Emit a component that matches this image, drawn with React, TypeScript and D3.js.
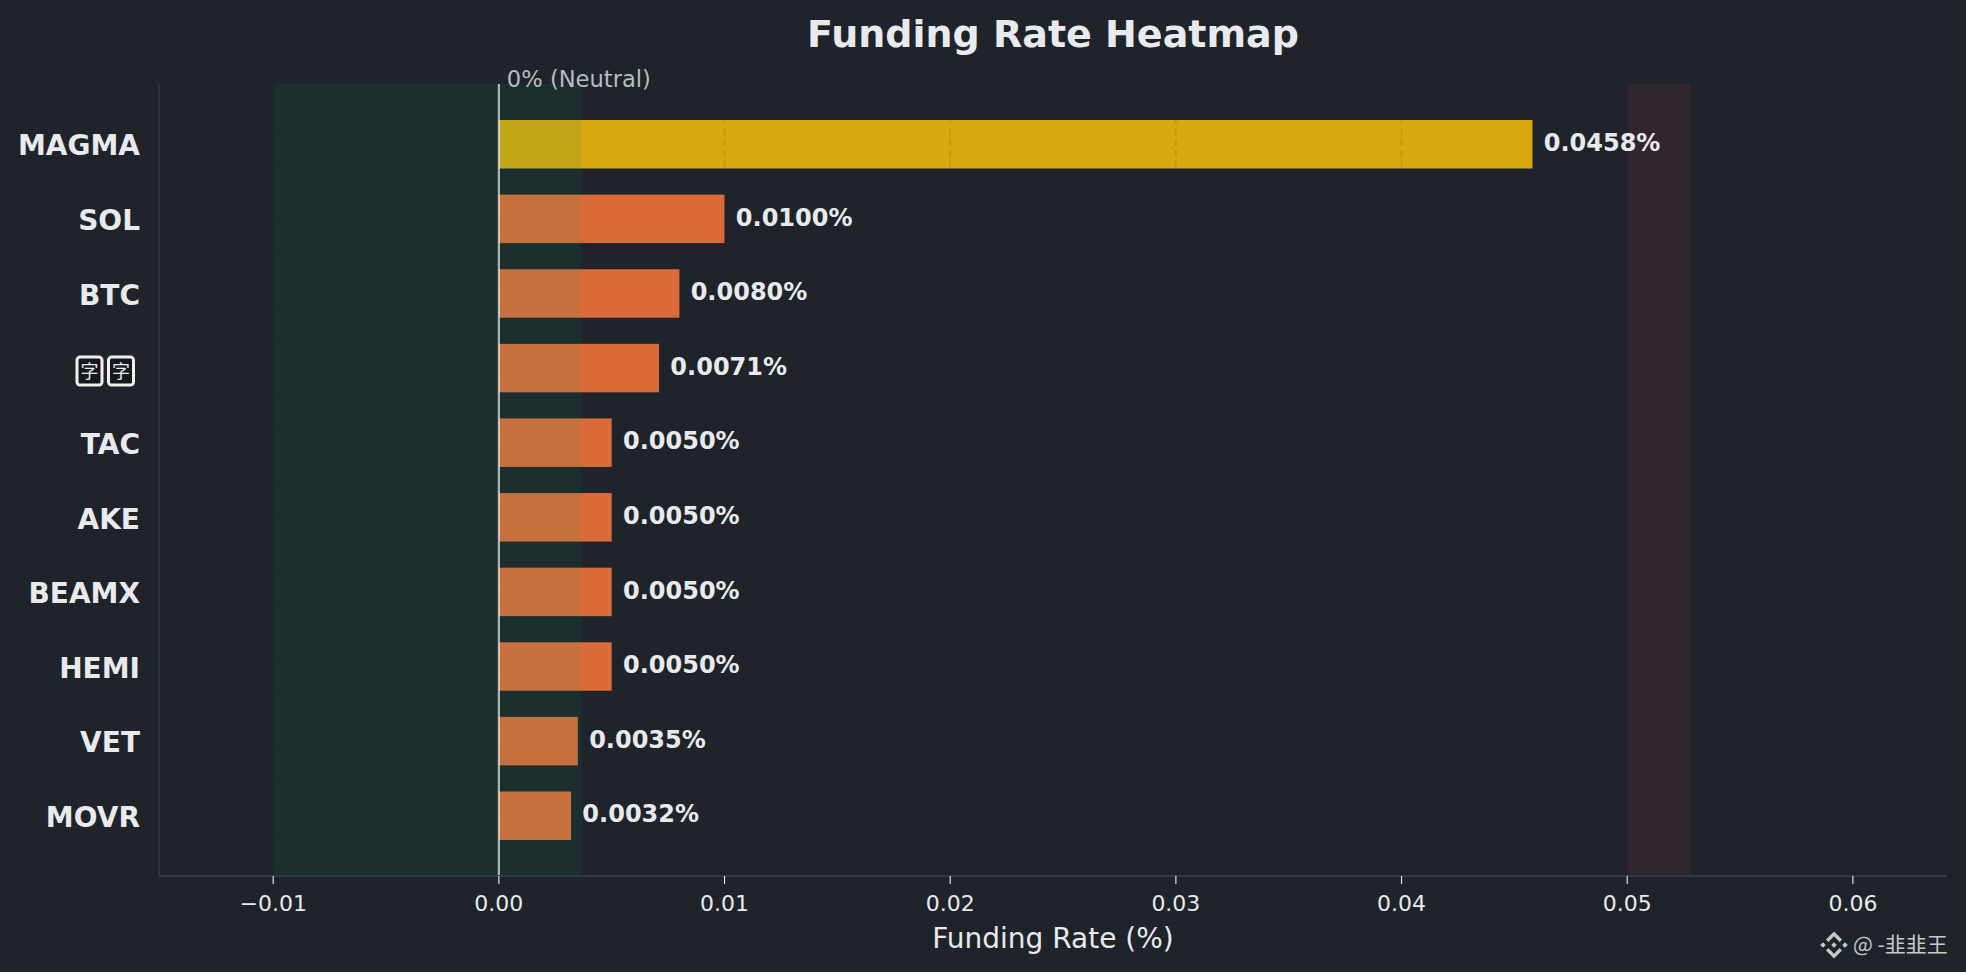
import * as d3 from 'd3'

// funding rates per symbol (in %), top to bottom
const symbols = ['MAGMA', 'SOL', 'BTC', '字字', 'TAC', 'AKE', 'BEAMX', 'HEMI', 'VET', 'MOVR']
const rates = [0.0458, 0.01, 0.008, 0.0071, 0.005, 0.005, 0.005, 0.005, 0.0035, 0.0032]
const xTicks = [-0.01, 0, 0.01, 0.02, 0.03, 0.04, 0.05, 0.06]
const neutralZone = [-0.01, 0.00367]
const hotZone = [0.05, 0.0528]

const W = 1966
const H = 972
const BG = '#1f232a'
const TEXT = '#e8eaed'
const FONT = '"DejaVu Sans", sans-serif'

const barColor = (v: number) => (v >= 0.03 ? '#d9a80f' : '#dc6b3a')

function BinanceLogo({ x, y }: { x: number; y: number }) {
  const d = (cx: number, cy: number, r: number) =>
    `M${cx},${cy - r}L${cx + r},${cy}L${cx},${cy + r}L${cx - r},${cy}Z`
  return (
    <g transform={`translate(${x},${y})`} fill="#c8c8c8">
      <path d={d(0, 0, 2.8)} />
      <path d={d(-11, 0, 2.8)} />
      <path d={d(11, 0, 2.8)} />
      <path d="M0,-13.5L8,-5.5L5.6,-3.1L0,-8.7L-5.6,-3.1L-8,-5.5Z" />
      <path d="M0,13.5L8,5.5L5.6,3.1L0,8.7L-5.6,3.1L-8,5.5Z" />
    </g>
  )
}

export default function App() {
  const x = d3.scaleLinear().domain([-0.01506, 0.06417]).range([159, 1947])
  const y = d3.scaleLinear().domain([-0.8075, 9.8075]).range([84, 876])
  const [top, bottom] = y.range()
  const [left, right] = x.range()
  const barH = y(0.65) - y(0)

  return (
    <svg
      width={W}
      height={H}
      style={{ position: 'absolute', left: 0, top: 0, background: BG }}
      fontFamily={FONT}
    >
      <rect width={W} height={H} fill={BG} />

      {/* bars */}
      {rates.map((v, i) => (
        <rect
          key={symbols[i]}
          x={x(0)}
          y={y(i) - barH / 2}
          width={x(v) - x(0)}
          height={barH}
          fill={barColor(v)}
        />
      ))}

      {/* grid */}
      {xTicks.map(t => (
        <line
          key={'g' + t}
          x1={x(t)}
          x2={x(t)}
          y1={top}
          y2={bottom}
          stroke="#1e2229"
          strokeOpacity={0.1}
          strokeWidth={2}
          strokeDasharray="7,4"
        />
      ))}

      {/* zones */}
      <rect
        x={x(neutralZone[0])}
        y={top}
        width={x(neutralZone[1]) - x(neutralZone[0])}
        height={bottom - top}
        fill="#0aa05e"
        fillOpacity={0.1}
      />
      <rect
        x={x(hotZone[0])}
        y={top}
        width={x(hotZone[1]) - x(hotZone[0])}
        height={bottom - top}
        fill="#ff4757"
        fillOpacity={0.08}
      />

      {/* zero line */}
      <line x1={x(0)} x2={x(0)} y1={top} y2={bottom} stroke="#ffffff" strokeOpacity={0.65} strokeWidth={2.2} />
      <text x={x(0) + 8} y={87} fontSize={22.6} fill="#b8bcc2">
        0% (Neutral)
      </text>

      {/* value labels */}
      {rates.map((v, i) => (
        <text
          key={'v' + i}
          x={x(v + 0.0005)}
          y={y(i)}
          dy="0.28em"
          fontSize={24}
          fontWeight="bold"
          fill={TEXT}
        >
          {v.toFixed(4)}%
        </text>
      ))}

      {/* y labels */}
      {symbols.map((s, i) =>
        /^[\x00-\x7f]*$/.test(s) ? (
          <text
            key={'y' + s}
            x={140}
            y={y(i)}
            dy="0.4em"
            textAnchor="end"
            fontSize={28}
            fontWeight="bold"
            fill={TEXT}
          >
            {s}
          </text>
        ) : (
          <g key={'y' + s}>
            {s.split('').map((c, k) => (
              <g key={k} transform={`translate(${140 - (s.length - k) * 31.5},${y(i) - 11})`}>
                <rect x={0} y={0} width={25} height={28} rx={3} fill="#15181d" stroke="#f0f0f0" strokeWidth={3} />
                <text x={12.5} y={21} textAnchor="middle" fontSize={18} fill="#e8e8e8" fontFamily='"Noto Sans CJK SC"'>
                  {c}
                </text>
              </g>
            ))}
          </g>
        )
      )}

      {/* spines */}
      <line x1={left} x2={left} y1={top} y2={bottom} stroke="#353a42" strokeWidth={1.5} />
      <line x1={left} x2={right} y1={bottom} y2={bottom} stroke="#353a42" strokeWidth={2} />

      {/* x axis */}
      {xTicks.map(t => (
        <g key={'t' + t}>
          <line x1={x(t)} x2={x(t)} y1={bottom} y2={bottom + 8} stroke="#e0e0e0" strokeWidth={1.2} />
          <text x={x(t)} y={911} textAnchor="middle" fontSize={22} fill={TEXT}>
            {d3.format('.2f')(t).replace('-', '\u2212')}
          </text>
        </g>
      ))}
      <text x={(left + right) / 2} y={948} textAnchor="middle" fontSize={28} fill={TEXT}>
        Funding Rate (%)
      </text>

      {/* title */}
      <text x={(left + right) / 2} y={47} textAnchor="middle" fontSize={38} fontWeight="bold" fill={TEXT}>
        Funding Rate Heatmap
      </text>

      {/* watermark */}
      <BinanceLogo x={1834} y={945} />
      <text x={1853} y={952} fontSize={21} fill="#c8c8c8" fontFamily='"Noto Sans CJK SC", sans-serif'>
        @ -韭韭王
      </text>
    </svg>
  )
}
